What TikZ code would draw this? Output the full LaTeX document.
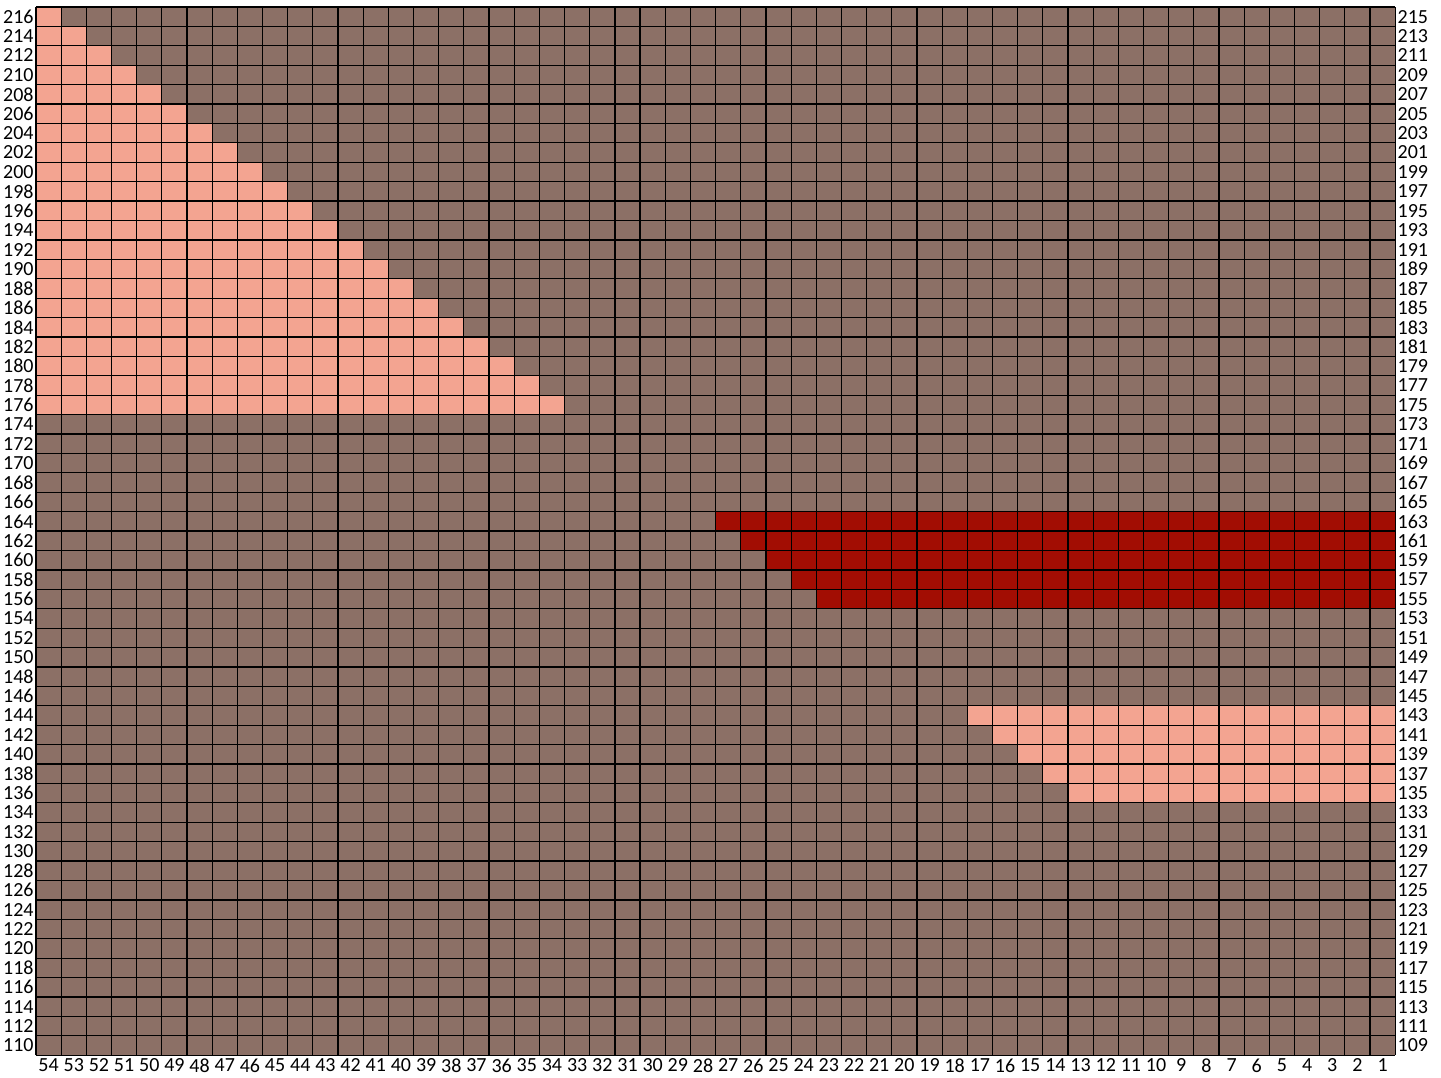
\documentclass[tikz,border=0pt]{standalone}
\usepackage{fontspec}
\setmainfont{Carlito}
\usepackage{tikz}
\usetikzlibrary{positioning}
\usepackage{xcolor}
\definecolor{stbrown}{HTML}{8C7066}
\definecolor{stpink}{HTML}{F3A491}
\definecolor{stred}{HTML}{A20D03}

\begin{document}
\begin{tikzpicture}[x=12.583pt,y=9.704pt,
  rowlbl/.style={inner sep=1pt,font=\fontsize{10}{12}\selectfont},
  collbl/.style={inner sep=1.5pt,anchor=north,font=\fontsize{10}{12}\selectfont},
  gridline/.style={draw=black,line width=0.6pt}]
\useasboundingbox (-1.430,-1.133) rectangle (55.82,54.36);
% background
\fill[stbrown] (0,0) rectangle (54,54);
% upper left wedge
\foreach \k in {0,...,20}
  \fill[stpink] (0,53-\k) rectangle (\k+1,54-\k);
% dark band
\foreach \k in {0,...,4}
  \fill[stred] (27+\k,27-\k) rectangle (54,28-\k);
% lower right wedge
\foreach \k in {0,...,4}
  \fill[stpink] (37+\k,17-\k) rectangle (54,18-\k);
% grid
\foreach \i in {0,...,54}
  \draw[gridline] (\i,0) -- (\i,54);
\foreach \j in {0,...,54}
  \draw[gridline] (0,\j) -- (54,\j);
% row numbers
\foreach \j [evaluate=\j as \ev using int(110+2*\j),
             evaluate=\j as \od using int(109+2*\j)] in {0,...,53} {
  \node[rowlbl,anchor=east] (l\j) at (0,\j+0.5) {\ev};
  \node[rowlbl,anchor=west] (r\j) at (54,\j+0.5) {\od};
}
% stitch numbers
\foreach \i [evaluate=\i as \st using int(54-\i)] in {0,...,53}
  \node[collbl] (c\i) at (\i+0.5,0) {\st};
\end{tikzpicture}
\end{document}
